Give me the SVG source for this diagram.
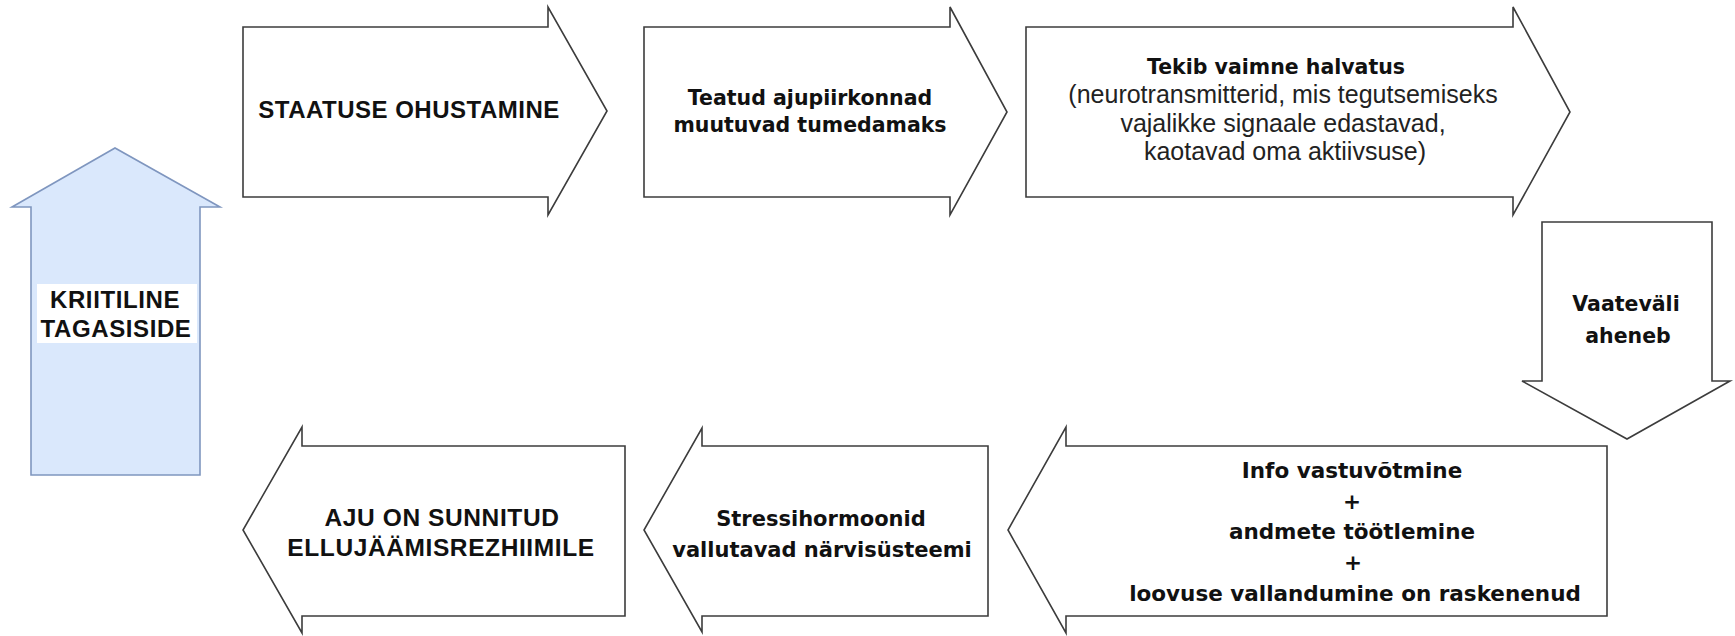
<svg xmlns="http://www.w3.org/2000/svg" width="1735" height="636" viewBox="0 0 1735 636">
<style>
.shape{fill:#ffffff;stroke:#3c3c3c;stroke-width:1.6;stroke-linejoin:miter}
.blue{fill:#dae8fc;stroke:#7f96bf;stroke-width:1.6}
.caps{font-family:"Liberation Sans",Arial,sans-serif;font-weight:bold;font-size:24.5px;letter-spacing:0.6px;fill:#111;text-anchor:middle}
.bold{font-family:"DejaVu Sans","Verdana",sans-serif;font-weight:bold;font-size:20.5px;fill:#111;text-anchor:middle}
.reg{font-family:"Liberation Sans",Arial,sans-serif;font-size:25px;fill:#222;text-anchor:middle}
</style>
<rect width="1735" height="636" fill="#ffffff"/>
<g id="node-kriitiline">
<polygon class="blue" points="31,475 31,207 12,207 115,148 220,207 200,207 200,475"/>
<rect x="37" y="284" width="160" height="59" fill="#ffffff"/>
<text class="caps" x="115" y="308" style="font-size:24px">KRIITILINE</text>
<text class="caps" x="116" y="337" style="font-size:24px">TAGASISIDE</text>
</g>
<g id="node-staatuse">
<polygon class="shape" points="243,27 548,27 548,7 607,111 548,215 548,197 243,197"/>
<text class="caps" x="409" y="118" style="font-size:24px;letter-spacing:0.5px">STAATUSE OHUSTAMINE</text>
</g>
<g id="node-teatud">
<polygon class="shape" points="644,27 950,27 950,7 1007,112 950,215 950,197 644,197"/>
<text class="bold" x="810" y="105">Teatud ajupiirkonnad</text>
<text class="bold" x="810" y="132">muutuvad tumedamaks</text>
</g>
<g id="node-tekib">
<polygon class="shape" points="1026,27 1513,27 1513,7 1570,112 1513,215 1513,197 1026,197"/>
<text class="bold" x="1276" y="74">Tekib vaimne halvatus</text>
<text class="reg" x="1283" y="103">(neurotransmitterid, mis tegutsemiseks</text>
<text class="reg" x="1283" y="132">vajalikke signaale edastavad,</text>
<text class="reg" x="1285" y="160">kaotavad oma aktiivsuse)</text>
</g>
<g id="node-vaatevali">
<polygon class="shape" points="1542,222 1712,222 1712,381 1730,381 1627,439 1522,381 1542,381"/>
<text class="bold" x="1626" y="311">Vaateväli</text>
<text class="bold" x="1628" y="343">aheneb</text>
</g>
<g id="node-info">
<polygon class="shape" points="1607,446 1066,446 1066,427 1008,530 1066,633 1066,616 1607,616"/>
<text class="bold" x="1352" y="478" style="font-size:21.5px">Info vastuvõtmine</text>
<text class="bold" x="1352" y="508.5" style="font-size:21.5px">+</text>
<text class="bold" x="1352" y="539" style="font-size:21.5px">andmete töötlemine</text>
<text class="bold" x="1353" y="569.5" style="font-size:21.5px">+</text>
<text class="bold" x="1355" y="601" style="font-size:21.5px">loovuse vallandumine on raskenenud</text>
</g>
<g id="node-stressi">
<polygon class="shape" points="988,446 702,446 702,428 644,530 702,632 702,616 988,616"/>
<text class="bold" x="821" y="526" style="font-size:21px">Stressihormoonid</text>
<text class="bold" x="822" y="557" style="font-size:21px">vallutavad närvisüsteemi</text>
</g>
<g id="node-aju">
<polygon class="shape" points="625,446 302,446 302,427 243,530 302,633 302,616 625,616"/>
<text class="caps" x="442" y="526">AJU ON SUNNITUD</text>
<text class="caps" x="441" y="556">ELLUJÄÄMISREZHIIMILE</text>
</g>
<g id="connectors"></g>
</svg>
